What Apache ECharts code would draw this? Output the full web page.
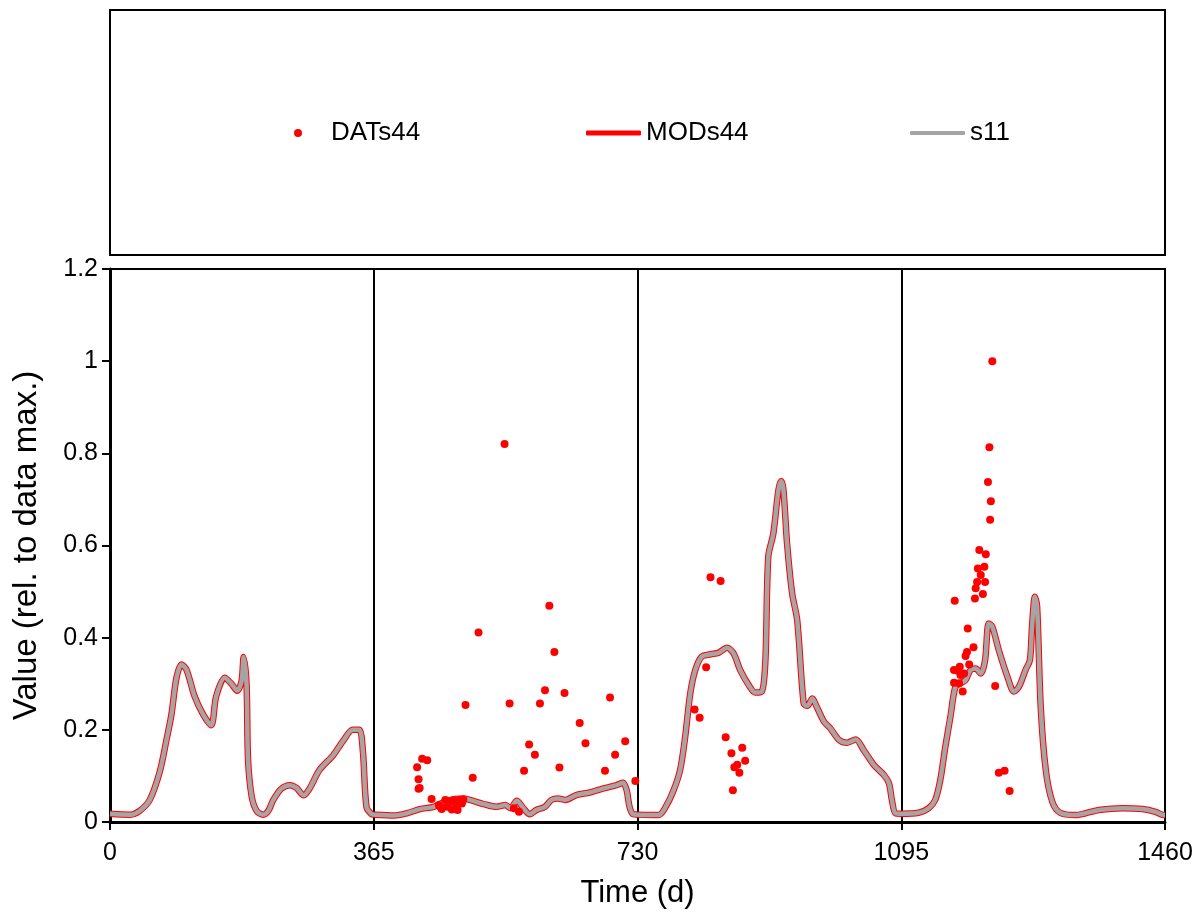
<!DOCTYPE html>
<html><head><meta charset="utf-8">
<script src="https://cdn.jsdelivr.net/npm/echarts@6/dist/echarts.min.js"></script>
<style>html,body{margin:0;padding:0;background:#fff}#c{width:1199px;height:916px}</style>
</head><body><div id="c"></div>
<script>
// x-axis ticks (days)
const xTicks = [0, 365, 730, 1095, 1460];
const yTicks = [0, 0.2, 0.4, 0.6, 0.8, 1, 1.2];
const seriesNames = ['DATs44', 'MODs44', 's11'];

// Modelled curve [day, value] (MODs44 and s11 coincide in the picture)
const modCurve = [
  [0,0.018],[28,0.016],[41,0.024],[55,0.048],[69,0.110],[78,0.177],[85,0.233],[92,0.313],[99,0.342],[106,0.330],
  [117,0.273],[129,0.233],[140,0.210],[147,0.273],[159,0.313],[168,0.300],[176,0.285],[182,0.305],[185,0.358],[189,0.297],
  [191,0.137],[196,0.056],[203,0.024],[212,0.016],[219,0.024],[226,0.048],[237,0.072],[249,0.080],[258,0.074],[268,0.058],
  [276,0.072],[290,0.113],[309,0.145],[323,0.177],[336,0.200],[345,0.200],[350,0.153],[355,0.032],[362,0.017],[365,0.016],
  [393,0.014],[411,0.019],[429,0.028],[448,0.033],[466,0.046],[489,0.051],[498,0.048],[517,0.039],[535,0.033],[547,0.037],
  [554,0.030],[563,0.046],[572,0.030],[581,0.017],[590,0.026],[602,0.033],[611,0.048],[620,0.051],[630,0.048],[646,0.059],
  [664,0.064],[683,0.073],[701,0.080],[710,0.085],[715,0.069],[719,0.033],[724,0.017],[730,0.016],
  [759,0.015],[768,0.030],[780,0.069],[789,0.113],[796,0.185],[803,0.279],[810,0.330],[819,0.359],[831,0.364],[842,0.367],
  [854,0.378],[863,0.366],[872,0.330],[884,0.297],[893,0.281],[902,0.283],[907,0.351],[911,0.576],[918,0.626],[925,0.720],
  [929,0.740],[932,0.720],[937,0.604],[944,0.496],[951,0.438],[960,0.257],[965,0.252],[972,0.268],[978,0.250],[988,0.218],
  [997,0.203],[1009,0.178],[1020,0.172],[1032,0.179],[1043,0.156],[1057,0.124],[1071,0.102],[1078,0.084],[1082,0.048],[1087,0.019],
  [1095,0.018],
  [1119,0.020],[1133,0.030],[1142,0.048],[1149,0.091],[1156,0.163],[1163,0.228],[1170,0.294],[1177,0.301],[1184,0.308],[1191,0.330],
  [1198,0.333],[1205,0.322],[1211,0.351],[1216,0.431],[1221,0.424],[1230,0.373],[1242,0.315],[1251,0.283],[1258,0.294],[1267,0.330],
  [1273,0.351],[1276,0.424],[1280,0.489],[1283,0.467],[1288,0.250],[1295,0.113],[1304,0.044],[1315,0.020],[1336,0.015],[1350,0.019],
  [1369,0.026],[1401,0.030],[1429,0.028],[1447,0.022],[1458,0.015],[1460,0.015]
];
const s11Curve = modCurve;

// Observed points [day, value]
const datPoints = [
  [546,0.820],[608,0.469],[510,0.411],[615,0.369],[602,0.286],[629,0.280],[692,0.270],[492,0.254],[553,0.257],[595,0.257],
  [650,0.215],[580,0.168],[658,0.171],[713,0.175],[588,0.146],[699,0.146],[573,0.111],[622,0.118],[685,0.111],[727,0.089],
  [432,0.137],[439,0.134],[425,0.119],[427,0.093],[427,0.072],[428.5,0.074],[502,0.096],[445,0.050],[455,0.037],[459,0.028],
  [464,0.048],[467,0.033],[471,0.044],[473,0.027],[476,0.048],[479,0.037],[481,0.026],[484,0.048],[487,0.040],[489,0.049],
  [457,0.033],[559,0.030],[566,0.022],
  [831,0.531],[845,0.523],[825,0.336],[809,0.244],[816,0.226],[852,0.184],[875,0.161],[860,0.149],[879,0.133],[868,0.124],
  [864,0.119],[871,0.107],[862,0.069],
  [1221,1.000],[1217,0.813],[1215,0.738],[1219,0.696],[1218,0.656],[1203,0.590],[1212,0.581],[1210,0.554],[1201,0.550],[1205,0.536],
  [1200,0.521],[1211,0.521],[1198,0.507],[1208,0.495],[1197,0.485],[1169,0.480],[1187,0.420],[1195,0.379],[1186,0.369],[1184,0.360],
  [1189,0.342],[1176,0.337],[1168,0.330],[1173,0.328],[1182,0.322],[1177,0.319],[1168,0.302],[1175,0.301],[1180,0.283],[1225,0.295],
  [1230,0.107],[1238,0.111],[1245,0.067]
];

const FONT = '"Liberation Sans", Arial, sans-serif';
const chart = echarts.init(document.getElementById('c'));
const legendBase = {
  top: 120, orient: 'horizontal', selectedMode: false, padding: 0,
  textStyle: { fontSize: 26, color: '#000', fontFamily: FONT }
};
chart.setOption({
  animation: false,
  backgroundColor: '#fff',
  textStyle: { fontFamily: FONT },
  graphic: [{
    type: 'rect', shape: { x: 110, y: 10, width: 1055, height: 245 },
    style: { fill: 'none', stroke: '#000', lineWidth: 2 }
  }],
  legend: [
    Object.assign({}, legendBase, { data: [seriesNames[0]], left: 294, icon: 'circle', itemWidth: 8, itemHeight: 8,
      textStyle: { fontSize: 26, color: '#000', fontFamily: FONT, padding: [0, 0, 0, 24] } }),
    Object.assign({}, legendBase, { data: [seriesNames[1]], left: 586, icon: 'roundRect', itemWidth: 55, itemHeight: 5 }),
    Object.assign({}, legendBase, { data: [seriesNames[2]], left: 910, icon: 'roundRect', itemWidth: 55, itemHeight: 4 })
  ],
  grid: { left: 110, right: 34, top: 269, bottom: 94, show: true, borderColor: '#000', borderWidth: 2, backgroundColor: 'transparent' },
  xAxis: {
    type: 'value', min: xTicks[0], max: xTicks[xTicks.length - 1], interval: 365,
    name: 'Time (d)', nameLocation: 'middle', nameGap: 56,
    nameTextStyle: { fontSize: 31, color: '#000', fontFamily: FONT },
    axisLine: { show: true, onZero: false, lineStyle: { color: '#000', width: 3 } },
    axisTick: { show: true, length: 8, lineStyle: { color: '#000', width: 2 } },
    axisLabel: { fontSize: 25, color: '#000', margin: 19, fontFamily: FONT, formatter: v => String(v) },
    splitLine: { show: true, lineStyle: { color: '#000', width: 2 } }
  },
  yAxis: {
    type: 'value', min: yTicks[0], max: yTicks[yTicks.length - 1], interval: 0.2,
    name: 'Value (rel. to data max.)', nameLocation: 'middle', nameGap: 67, nameRotate: 90,
    nameTextStyle: { fontSize: 33, color: '#000', fontFamily: FONT },
    axisLine: { show: true, lineStyle: { color: '#000', width: 3 } },
    axisTick: { show: true, length: 8, lineStyle: { color: '#000', width: 2 } },
    axisLabel: { fontSize: 25, color: '#000', margin: 12, fontFamily: FONT },
    splitLine: { show: false }
  },
  series: [
    { name: seriesNames[1], type: 'line', data: modCurve, symbol: 'none', smooth: 0.3, z: 3,
      itemStyle: { color: '#FF0000' }, lineStyle: { color: '#FF0000', width: 6.5 } },
    { name: seriesNames[2], type: 'line', data: s11Curve, symbol: 'none', smooth: 0.3, z: 4,
      itemStyle: { color: '#A5A5A5' }, lineStyle: { color: '#A5A5A5', width: 4.5 } },
    { name: seriesNames[0], type: 'scatter', data: datPoints, symbol: 'circle', symbolSize: 8, z: 5,
      itemStyle: { color: '#FF0000', opacity: 1 } }
  ]
});
</script>
</body></html>
